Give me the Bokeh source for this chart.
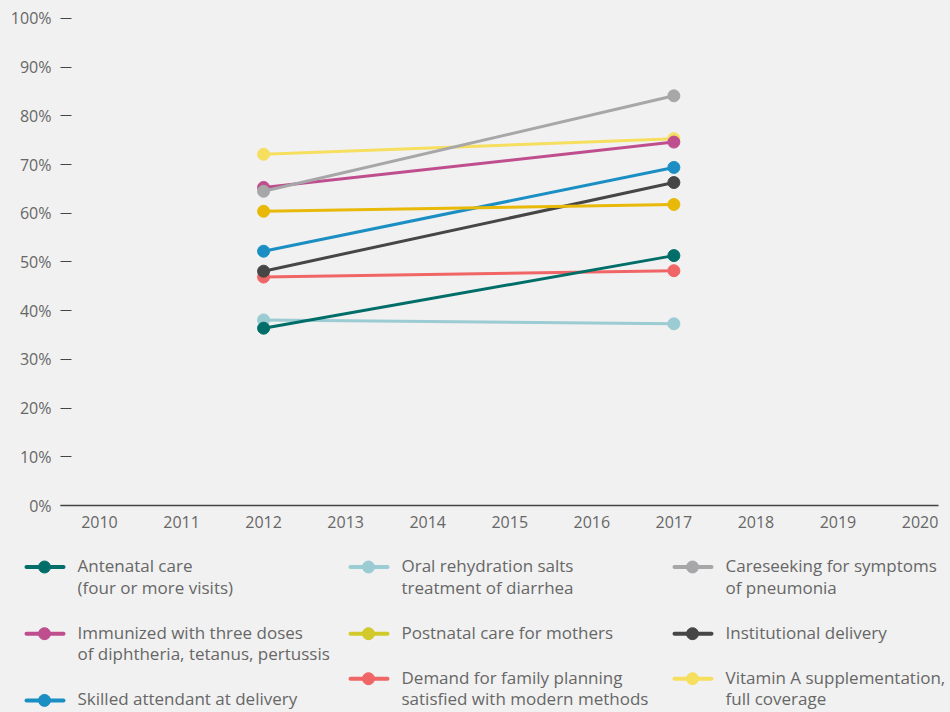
from bokeh.plotting import figure
from bokeh.models import Range1d, FixedTicker, ColumnDataSource
from bokeh.embed import file_html
from bokeh.resources import INLINE
from bokeh.core.properties import value

# ---------------- data ----------------
years = [2012, 2017]
x_ticks = [2010, 2011, 2012, 2013, 2014, 2015, 2016, 2017, 2018, 2019, 2020]
y_ticks = [0, 10, 20, 30, 40, 50, 60, 70, 80, 90, 100]
y_tick_labels = ["0%", "10%", "20%", "30%", "40%", "50%", "60%", "70%", "80%", "90%", "100%"]

labels = [
    "Antenatal care\n(four or more visits)",
    "Oral rehydration salts\ntreatment of diarrhea",
    "Careseeking for symptoms\nof pneumonia",
    "Immunized with three doses\nof diphtheria, tetanus, pertussis",
    "Postnatal care for mothers",
    "Institutional delivery",
    "Skilled attendant at delivery",
    "Demand for family planning\nsatisfied with modern methods",
    "Vitamin A supplementation,\nfull coverage",
]

antenatal = [36.4, 51.3]
oral_rehydration = [38.1, 37.3]
careseeking = [64.5, 84.1]
immunized = [65.3, 74.6]
postnatal = [60.4, 61.8]
institutional = [48.1, 66.3]
skilled = [52.2, 69.4]
family_planning = [46.9, 48.2]
vitamin_a = [72.1, 75.3]

series = [antenatal, oral_rehydration, careseeking, immunized, postnatal,
          institutional, skilled, family_planning, vitamin_a]

line_colors = ["#006e68", "#9bcbd3", "#a7a7a9", "#bf4e8f", "#e8b908",
               "#464646", "#1b8fc4", "#f06565", "#f6de5f"]
legend_colors = ["#006e68", "#9bcbd3", "#a7a7a9", "#bf4e8f", "#d2c92b",
                 "#464646", "#1b8fc4", "#f06565", "#f6de5f"]

# ---------------- styles ----------------
BG = "#f1f1f1"
FONT = "Open Sans"
TEXT = "#676767"
AXIS = "#444444"
W = 950
CHART_H = 538
TOTAL_H = 712

# ---------------- chart ----------------
p = figure(width=W, height=CHART_H,
           x_range=Range1d(2009.525, 2020.225), y_range=Range1d(0, 101),
           output_backend="svg", toolbar_location=None,
           min_border_left=60, min_border_right=12, min_border_top=13, min_border_bottom=33,
           background_fill_color=BG, border_fill_color=BG, outline_line_color=None)
p.xgrid.visible = False
p.ygrid.visible = False

xa = p.xaxis[0]
xa.ticker = FixedTicker(ticks=x_ticks)
xa.major_tick_line_color = None
xa.minor_tick_line_color = None
xa.axis_line_color = AXIS
xa.axis_line_width = 1.5
xa.major_label_text_font = FONT
xa.major_label_text_font_size = "16px"
xa.major_label_text_color = TEXT
xa.major_label_standoff = 4

ya = p.yaxis[0]
ya.ticker = FixedTicker(ticks=y_ticks)
ya.major_label_overrides = {t: l for t, l in zip(y_ticks, y_tick_labels)}
ya.axis_line_color = None
ya.major_tick_in = 11
ya.major_tick_out = 0
ya.major_tick_line_color = AXIS
ya.major_tick_line_width = 1
ya.minor_tick_line_color = None
ya.major_label_text_font = FONT
ya.major_label_text_font_size = "16px"
ya.major_label_text_color = TEXT
ya.major_label_standoff = 9

for vals, col in reversed(list(zip(series, line_colors))):
    src = ColumnDataSource(dict(x=years, y=vals))
    p.line("x", "y", source=src, line_color=col, line_width=3)
    p.scatter("x", "y", source=src, size=12, fill_color=col, line_color=col)

# ---------------- legend ----------------
lg = figure(width=W, height=TOTAL_H - CHART_H,
            x_range=Range1d(0, W), y_range=Range1d(TOTAL_H, CHART_H),
            x_axis_type=None, y_axis_type=None,
            output_backend="svg", toolbar_location=None, min_border=0,
            background_fill_color=BG, border_fill_color=BG, outline_line_color=None)
for g in lg.grid:
    g.visible = False

ncols = 3
col_x0 = [26, 350, 674]
first_y = 566.5
line_h = 21.7
gap = 23.3
text_dy = -1.5
col_y = [first_y] * ncols

seg = dict(x0=[], x1=[], y=[], c=[])
dots = dict(x=[], y=[], c=[])
txt = dict(x=[], y=[], t=[])
for i, (lab, c) in enumerate(zip(labels, legend_colors)):
    ci = i % ncols
    x0 = col_x0[ci]
    y = col_y[ci]
    seg["x0"].append(x0); seg["x1"].append(x0 + 37); seg["y"].append(y); seg["c"].append(c)
    dots["x"].append(x0 + 18); dots["y"].append(y); dots["c"].append(c)
    lines = lab.split("\n")
    for k, ln in enumerate(lines):
        txt["x"].append(x0 + 51); txt["y"].append(y + k * line_h + text_dy); txt["t"].append(ln)
    col_y[ci] = y + len(lines) * line_h + gap

lg.segment(x0="x0", y0="y", x1="x1", y1="y", source=ColumnDataSource(seg),
           line_color="c", line_width=4, line_cap="round")
lg.scatter("x", "y", source=ColumnDataSource(dots), size=12, fill_color="c", line_color="c")
lg.text("x", "y", text="t", source=ColumnDataSource(txt),
        text_font=value(FONT), text_font_size="17px", text_color=TEXT,
        text_align="left", text_baseline="middle")

html = file_html([p, lg], INLINE)
html = html.replace("</head>", "<style>body{background:#f1f1f1;}</style></head>", 1)
open("out.html", "w").write(html)
